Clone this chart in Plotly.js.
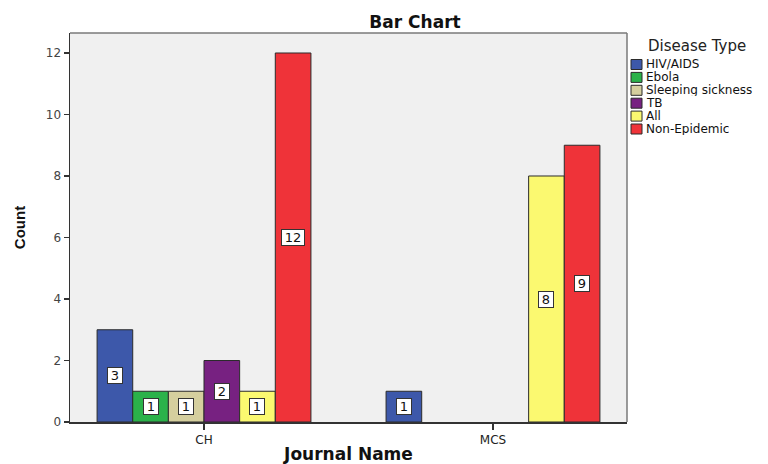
<!DOCTYPE html>
<html>
<head>
<meta charset="utf-8">
<script src="https://cdn.plot.ly/plotly-3.0.1.min.js"></script>
<style>
  html, body { margin: 0; padding: 0; background: #ffffff; }
  #chart { width: 768px; height: 464px; }
</style>
</head>
<body>
<div id="chart"></div>
<script>
// Journals on the x axis
const journals = ['CH', 'MCS'];

// Disease types (one bar series each) and their fills
const diseaseTypes = ['HIV/AIDS', 'Ebola', 'Sleeping sickness', 'TB', 'All', 'Non-Epidemic'];
const diseaseColors = ['#3d58aa', '#2bb24a', '#d5cf9e', '#772181', '#fbf970', '#ef3339'];

// Article counts per journal for each disease type (null = no articles)
const hivAids = [3, 1];
const ebola = [1, null];
const sleepingSickness = [1, null];
const tb = [2, null];
const allTypes = [1, 8];
const nonEpidemic = [12, 9];

const seriesValues = [hivAids, ebola, sleepingSickness, tb, allTypes, nonEpidemic];

// Plot geometry (pixels) used to place the hand-built legend in paper units
const W = 768, H = 464;
const M = { l: 70, r: 141, t: 33, b: 42 };
const plotW = W - M.l - M.r;
const plotH = H - M.t - M.b;
const xp = px => (px - M.l) / plotW;
const yp = py => (H - M.b - py) / plotH;

const BARGAP = 0.26;
const nSeries = diseaseTypes.length;
const slot = (1 - BARGAP) / nSeries;

const traces = diseaseTypes.map((name, i) => ({
  type: 'bar',
  name: name,
  x: journals,
  y: seriesValues[i],
  marker: { color: diseaseColors[i], line: { color: '#2b2b2b', width: 1 } },
  hoverinfo: 'x+y+name',
  showlegend: false
}));

// Boxed value labels at the middle of each bar
const annotations = [];
seriesValues.forEach((vals, i) => {
  const offset = -(1 - BARGAP) / 2 + slot * (i + 0.5);
  vals.forEach((v, j) => {
    if (v === null) return;
    const label = String(v);
    annotations.push({
      x: j + offset, y: v / 2, xref: 'x', yref: 'y',
      text: label, showarrow: false,
      font: { family: 'DejaVu Sans, Arial, sans-serif', size: 13, color: '#111' },
      bgcolor: '#ffffff', bordercolor: '#333333', borderwidth: 1, borderpad: 0,
      width: 8 * label.length + 6, height: 15, xanchor: 'center', yanchor: 'middle'
    });
  });
});

// Legend: title, colour swatches and names
annotations.push({
  x: xp(697), y: yp(46), xref: 'paper', yref: 'paper',
  text: 'Disease Type', showarrow: false, xanchor: 'center', yanchor: 'middle',
  font: { family: 'DejaVu Sans, Arial, sans-serif', size: 15, color: '#222' }
});
const shapes = [];
const legendTop = 64.5, legendStep = 12.9;
diseaseTypes.forEach((name, i) => {
  const cy = legendTop + i * legendStep;
  shapes.push({
    type: 'rect', xref: 'paper', yref: 'paper',
    x0: xp(631), x1: xp(642), y0: yp(cy + 5), y1: yp(cy - 5),
    fillcolor: diseaseColors[i], line: { color: '#2b2b2b', width: 1 }, layer: 'above'
  });
  annotations.push({
    x: xp(645), y: yp(cy), xref: 'paper', yref: 'paper',
    text: name, showarrow: false, xanchor: 'left', yanchor: 'middle',
    height: 12, borderpad: 0,
    font: { family: 'DejaVu Sans, Arial, sans-serif', size: 12, color: '#111' }
  });
});

// Grey frame along the top and right of the plot area
shapes.push({ type: 'line', xref: 'paper', yref: 'paper', x0: 0, x1: 1, y0: 1, y1: 1,
  line: { color: '#7a7a7a', width: 1.5 }, layer: 'above' });
shapes.push({ type: 'line', xref: 'paper', yref: 'paper', x0: 1, x1: 1, y0: 0, y1: 1,
  line: { color: '#7a7a7a', width: 1.5 }, layer: 'above' });

const layout = {
  width: W, height: H,
  margin: M,
  paper_bgcolor: '#ffffff',
  plot_bgcolor: '#f0f0f0',
  barmode: 'group',
  bargap: BARGAP,
  bargroupgap: 0,
  showlegend: false,
  title: {
    text: '<b>Bar Chart</b>',
    x: xp(415), xref: 'paper', xanchor: 'center',
    y: 1 - 22 / H, yref: 'container', yanchor: 'middle',
    font: { family: 'DejaVu Sans, Arial, sans-serif', size: 17, color: '#111' }
  },
  xaxis: {
    type: 'category',
    range: [-0.4637, 1.4637],
    showline: true, linecolor: '#333333', linewidth: 1.5,
    ticks: 'outside', ticklen: 6, tickcolor: '#333333', tickwidth: 1.5,
    tickfont: { family: 'DejaVu Sans, Arial, sans-serif', size: 12, color: '#222' },
    showgrid: false, zeroline: false,
    title: {
      text: '<b>Journal Name</b>', standoff: 14,
      font: { family: 'DejaVu Sans, Arial, sans-serif', size: 17, color: '#111' }
    }
  },
  yaxis: {
    range: [0, 12.65],
    tickvals: [0, 2, 4, 6, 8, 10, 12],
    showline: true, linecolor: '#333333', linewidth: 1.5,
    ticks: 'outside', ticklen: 5, tickcolor: '#333333', tickwidth: 1.5,
    tickfont: { family: 'DejaVu Sans, Arial, sans-serif', size: 12, color: '#444' },
    showgrid: false, zeroline: false,
    title: {
      text: '<b>Count</b>', standoff: 16,
      font: { family: 'Liberation Sans, Arial, sans-serif', size: 15, color: '#111' }
    }
  },
  annotations: annotations,
  shapes: shapes
};

Plotly.newPlot('chart', traces, layout, { displayModeBar: false, staticPlot: true });
</script>
</body>
</html>
